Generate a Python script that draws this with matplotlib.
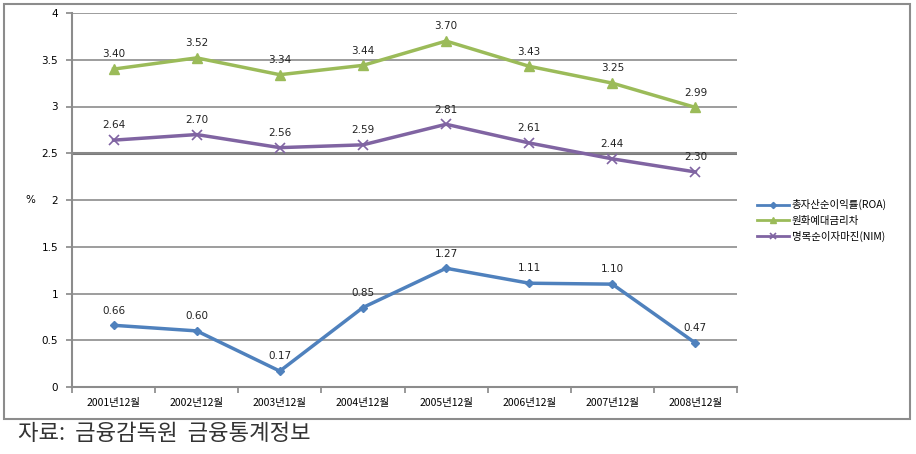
import matplotlib
matplotlib.use("Agg")
import matplotlib.pyplot as plt
from matplotlib.patches import Rectangle
import numpy as np

plt.rcParams['font.family'] = ['Noto Sans CJK KR', 'DejaVu Sans']

categories = ['2001년12월', '2002년12월', '2003년12월', '2004년12월',
              '2005년12월', '2006년12월', '2007년12월', '2008년12월']
roa = [0.66, 0.60, 0.17, 0.85, 1.27, 1.11, 1.10, 0.47]
spread = [3.40, 3.52, 3.34, 3.44, 3.70, 3.43, 3.25, 2.99]
nim = [2.64, 2.70, 2.56, 2.59, 2.81, 2.61, 2.44, 2.30]
series_names = ['총자산순이익률(ROA)', '원화예대금리차', '명목순이자마진(NIM)']
yticks = [0, 0.5, 1, 1.5, 2, 2.5, 3, 3.5, 4]
ytick_labels = ['0', '0.5', '1', '1.5', '2', '2.5', '3', '3.5', '4']
source_text = '자료:  금융감독원  금융통계정보'

fig = plt.figure(figsize=(9.16, 4.54), dpi=100)
# outer frame
fig.patches.append(Rectangle((4/916, 1-419/454), (910-4)/916, (419-4)/454,
                             transform=fig.transFigure, fill=False,
                             edgecolor='#8c8c8c', linewidth=1.5))

ax = fig.add_axes([72/916, 1-387/454, (737-72)/916, (387-13)/454])
x = np.arange(len(categories))

blue, green, purple = '#4F81BD', '#9BBB59', '#8064A2'
ax.plot(x, roa, color=blue, lw=2.5, marker='D', ms=4.5, label=series_names[0], zorder=3)
ax.plot(x, spread, color=green, lw=2.5, marker='^', ms=7, label=series_names[1], zorder=3)
ax.plot(x, nim, color=purple, lw=2.5, marker='x', ms=7, mew=1.2, label=series_names[2], zorder=3)

for vals in (roa, spread, nim):
    for xi, v in zip(x, vals):
        ax.annotate(f'{v:.2f}', (xi, v), xytext=(0, 7), textcoords='offset points',
                    ha='center', va='bottom', fontsize=7.5, color='#222222',
                    family=['DejaVu Sans'])

ax.set_xlim(-0.5, len(categories) - 0.5)
ax.set_ylim(0, 4)
ax.set_yticks(yticks)
ax.set_yticklabels(ytick_labels, fontsize=7.5, family=['DejaVu Sans'])
ax.set_xticks(x)
ax.set_xticklabels(categories, fontsize=7.5)
ax.set_xticks(np.arange(-0.5, len(categories)), minor=True)
ax.tick_params(axis='x', which='major', length=0, pad=8)
ax.tick_params(axis='x', which='minor', length=4, color='#888888', width=1.2)
ax.tick_params(axis='y', length=4, color='#888888', width=1.2, pad=6)

ax.grid(axis='y', color='#8c8c8c', lw=1.2, zorder=0)
ax.axhline(2.5, color='#7a7a7a', lw=2.2, zorder=0.5)
for s in ['top', 'right']:
    ax.spines[s].set_visible(False)
for s in ['left', 'bottom']:
    ax.spines[s].set_color('#8c8c8c')
    ax.spines[s].set_linewidth(1.5)

fig.text(30/916, 1-200/454, '%', fontsize=7.5, ha='center', va='center',
         family=['DejaVu Sans'])

leg = ax.legend(loc='upper left', bbox_to_anchor=(748/916, 1-190/454),
                bbox_transform=fig.transFigure, frameon=False, fontsize=7.5,
                handlelength=3.0, labelspacing=0.5, handletextpad=0.3,
                markerscale=0.7)
for line in leg.get_lines():
    line.set_linewidth(2.0)

fig.text(18/916, 1-433/454, source_text, fontsize=16, ha='left', va='center',
         color='#333333')

fig.savefig('out.png', dpi=100)
